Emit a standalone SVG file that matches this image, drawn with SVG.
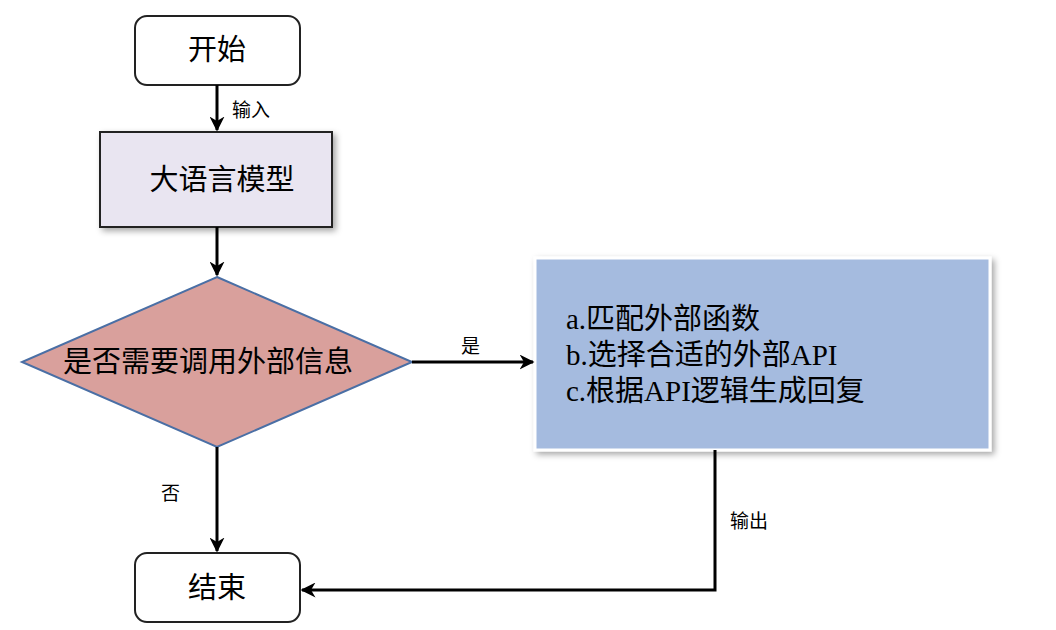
<svg xmlns="http://www.w3.org/2000/svg" width="1056" height="630" viewBox="0 0 1056 630">
<style>
.t{font-family:"Liberation Serif","Noto Sans CJK SC",serif;fill:#000}
.big{font-size:29px}
.sm{font-size:19px}
.c{stroke:#000;stroke-width:3;fill:none}
</style>
<defs>
<marker id="a" viewBox="0 0 10 10" refX="9" refY="5" markerWidth="5" markerHeight="5" orient="auto" markerUnits="strokeWidth"><path d="M0,0 L10,5 L0,10 L3,5 z" fill="#000"/></marker>
<filter id="s" x="-10%" y="-10%" width="130%" height="130%"><feDropShadow dx="3" dy="3" stdDeviation="3" flood-opacity="0.35"/></filter>
</defs>
<rect width="1056" height="630" fill="#fff"/>
<g id="start"><rect x="135" y="16" width="165" height="69" rx="12" fill="#fff" stroke="#222" stroke-width="2"/><text class="t big" x="217" y="60" text-anchor="middle">开始</text></g>
<g id="llm"><rect x="100" y="132" width="232" height="95" fill="#e9e5f1" stroke="#222" stroke-width="2" filter="url(#s)"/><text class="t big" x="222" y="190" text-anchor="middle">大语言模型</text></g>
<g id="decision"><polygon points="217,277 412,362 217,447 22,362" fill="#d9a09c" stroke="#4a6fa5" stroke-width="2"/><text class="t big" x="208" y="372" text-anchor="middle">是否需要调用外部信息</text></g>
<g id="api"><rect x="535" y="258" width="455" height="192" fill="#a5bbdf" stroke="#fff" stroke-width="3" filter="url(#s)"/>
<text class="t big" x="566" y="329">a.匹配外部函数</text>
<text class="t big" x="566" y="365">b.选择合适的外部API</text>
<text class="t big" x="566" y="401">c.根据API逻辑生成回复</text></g>
<g id="end"><rect x="135" y="553" width="165" height="69" rx="12" fill="#fff" stroke="#222" stroke-width="2"/><text class="t big" x="217" y="598" text-anchor="middle">结束</text></g>
<g id="connectors">
<line class="c" x1="217" y1="85" x2="217" y2="130" marker-end="url(#a)"/>
<text class="t sm" x="232" y="117">输入</text>
<line class="c" x1="217" y1="227" x2="217" y2="275" marker-end="url(#a)"/>
<line class="c" x1="412" y1="362" x2="533" y2="362" marker-end="url(#a)"/>
<text class="t sm" x="461" y="353">是</text>
<line class="c" x1="217" y1="447" x2="217" y2="551" marker-end="url(#a)"/>
<text class="t sm" x="161" y="500">否</text>
<polyline class="c" points="715,450 715,590 302,590" marker-end="url(#a)"/>
<text class="t sm" x="730" y="528">输出</text>
</g>
</svg>
